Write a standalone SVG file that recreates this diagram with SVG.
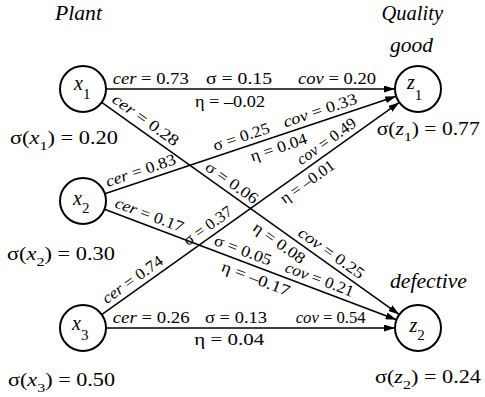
<svg xmlns="http://www.w3.org/2000/svg" width="485" height="397" viewBox="0 0 485 397">
<style>
text{font-family:"Liberation Serif","Times New Roman",serif;fill:#000}
.el{font-size:16px}
.i{font-style:italic}
.nl{font-size:20px;font-style:italic}
.sub{font-size:15px;font-style:normal}
.sl{font-size:18px}
.ss{font-size:13px}
.ttl{font-size:20px;font-style:italic}
.node circle{fill:#fff;stroke:#000;stroke-width:2}
.edge line{stroke:#000;stroke-width:1.5;marker-end:url(#ah)}
</style>
<defs>
<marker id="ah" viewBox="0 0 11 7" refX="11" refY="3.5" markerWidth="11" markerHeight="7" markerUnits="userSpaceOnUse" orient="auto"><path d="M0,0 L11,3.5 L0,7 z" fill="#000"/></marker>
</defs>
<text class="ttl" x="55" y="19.5" textLength="47" lengthAdjust="spacingAndGlyphs">Plant</text>
<text class="ttl" x="381.5" y="20" textLength="61.5" lengthAdjust="spacingAndGlyphs">Quality</text>
<text class="ttl" x="390" y="51.5" textLength="43" lengthAdjust="spacingAndGlyphs">good</text>
<text class="ttl" x="390" y="288" textLength="77" lengthAdjust="spacingAndGlyphs">defective</text>
<g id="connectors" class="edge">
<line x1="106" y1="89" x2="395" y2="89"/>
<line x1="106" y1="328" x2="395" y2="328"/>
<line x1="101.7" y1="102.4" x2="399.3" y2="314.6"/>
<line x1="104.8" y1="193.7" x2="396.2" y2="96.3"/>
<line x1="104.5" y1="209.2" x2="396.5" y2="319.8"/>
<line x1="101.7" y1="314.6" x2="399.3" y2="102.4"/>
</g>
<g id="labels" class="el">
<text x="112.7" y="83.5" textLength="76" lengthAdjust="spacingAndGlyphs"><tspan class="i">cer</tspan> = 0.73</text>
<text x="206" y="83.5" textLength="66" lengthAdjust="spacingAndGlyphs">σ = 0.15</text>
<text x="298" y="83.5" textLength="78" lengthAdjust="spacingAndGlyphs"><tspan class="i">cov</tspan> = 0.20</text>
<text x="195" y="106.5" textLength="70" lengthAdjust="spacingAndGlyphs">η = –0.02</text>
<text x="112.7" y="323" textLength="77" lengthAdjust="spacingAndGlyphs"><tspan class="i">cer</tspan> = 0.26</text>
<text x="205" y="323" textLength="62" lengthAdjust="spacingAndGlyphs">σ = 0.13</text>
<text x="295.7" y="323" textLength="70" lengthAdjust="spacingAndGlyphs"><tspan class="i">cov</tspan> = 0.54</text>
<text x="194.3" y="345" textLength="70" lengthAdjust="spacingAndGlyphs">η = 0.04</text>
<g transform="translate(101.7,102.4) rotate(35.5)">
<text x="7" y="-6" textLength="78" lengthAdjust="spacingAndGlyphs"><tspan class="i">cer</tspan> = 0.28</text>
<text x="122" y="-5" textLength="61" lengthAdjust="spacingAndGlyphs">σ = 0.06</text>
<text x="196" y="16.5" textLength="60" lengthAdjust="spacingAndGlyphs">η = 0.08</text>
<text x="236" y="-5.5" textLength="77" lengthAdjust="spacingAndGlyphs"><tspan class="i">cov</tspan> = 0.25</text>
</g>
<g transform="translate(104.8,193.7) rotate(-18.49)">
<text x="5" y="-5.5" textLength="73" lengthAdjust="spacingAndGlyphs"><tspan class="i">cer</tspan> = 0.83</text>
<text x="118" y="-5.5" textLength="59" lengthAdjust="spacingAndGlyphs">σ = 0.25</text>
<text x="192" y="-5.5" textLength="77" lengthAdjust="spacingAndGlyphs"><tspan class="i">cov</tspan> = 0.33</text>
<text x="150" y="16.5" textLength="59" lengthAdjust="spacingAndGlyphs">η = 0.04</text>
</g>
<g transform="translate(104.5,209.2) rotate(20.76)">
<text x="8" y="-5.5" textLength="72" lengthAdjust="spacingAndGlyphs"><tspan class="i">cer</tspan> = 0.17</text>
<text x="114" y="-5.5" textLength="60" lengthAdjust="spacingAndGlyphs">σ = 0.05</text>
<text x="190" y="-5.5" textLength="72" lengthAdjust="spacingAndGlyphs"><tspan class="i">cov</tspan> = 0.21</text>
<text x="130" y="16.5" textLength="72" lengthAdjust="spacingAndGlyphs">η = –0.17</text>
</g>
<g transform="translate(101.7,314.6) rotate(-35.5)">
<text x="10" y="-5.5" textLength="71" lengthAdjust="spacingAndGlyphs"><tspan class="i">cer</tspan> = 0.74</text>
<text x="110" y="-5.5" textLength="56" lengthAdjust="spacingAndGlyphs">σ = 0.37</text>
<text x="249" y="-5.5" textLength="69" lengthAdjust="spacingAndGlyphs"><tspan class="i">cov</tspan> = 0.49</text>
<text x="213" y="16.5" textLength="63" lengthAdjust="spacingAndGlyphs">η = –0.01</text>
</g>
</g>
<g id="x1" class="node">
<circle cx="83" cy="89" r="23"/>
<text class="nl" x="74" y="90">x<tspan class="sub" dy="9">1</tspan></text>
<text class="sl" x="10" y="144" textLength="108" lengthAdjust="spacingAndGlyphs">σ(<tspan class="i">x</tspan><tspan class="ss" dy="5.5">1</tspan><tspan dy="-5.5">) = 0.20</tspan></text>
</g>
<g id="x2" class="node">
<circle cx="83" cy="201" r="23"/>
<text class="nl" x="73" y="205">x<tspan class="sub" dy="8">2</tspan></text>
<text class="sl" x="7" y="260" textLength="108" lengthAdjust="spacingAndGlyphs">σ(<tspan class="i">x</tspan><tspan class="ss" dy="5.5">2</tspan><tspan dy="-5.5">) = 0.30</tspan></text>
</g>
<g id="x3" class="node">
<circle cx="83" cy="328" r="23"/>
<text class="nl" x="72" y="330">x<tspan class="sub" dy="10">3</tspan></text>
<text class="sl" x="8" y="386" textLength="107" lengthAdjust="spacingAndGlyphs">σ(<tspan class="i">x</tspan><tspan class="ss" dy="5.5">3</tspan><tspan dy="-5.5">) = 0.50</tspan></text>
</g>
<g id="z1" class="node">
<circle cx="418" cy="89" r="23"/>
<text class="nl" x="407" y="89">z<tspan class="sub" dy="11">1</tspan></text>
<text class="sl" x="376.7" y="135" textLength="103" lengthAdjust="spacingAndGlyphs">σ(<tspan class="i">z</tspan><tspan class="ss" dy="5.5">1</tspan><tspan dy="-5.5">) = 0.77</tspan></text>
</g>
<g id="z2" class="node">
<circle cx="418" cy="328" r="23"/>
<text class="nl" x="409.5" y="331.5">z<tspan class="sub" dy="8.5">2</tspan></text>
<text class="sl" x="375" y="383" textLength="106" lengthAdjust="spacingAndGlyphs">σ(<tspan class="i">z</tspan><tspan class="ss" dy="5.5">2</tspan><tspan dy="-5.5">) = 0.24</tspan></text>
</g>
</svg>
